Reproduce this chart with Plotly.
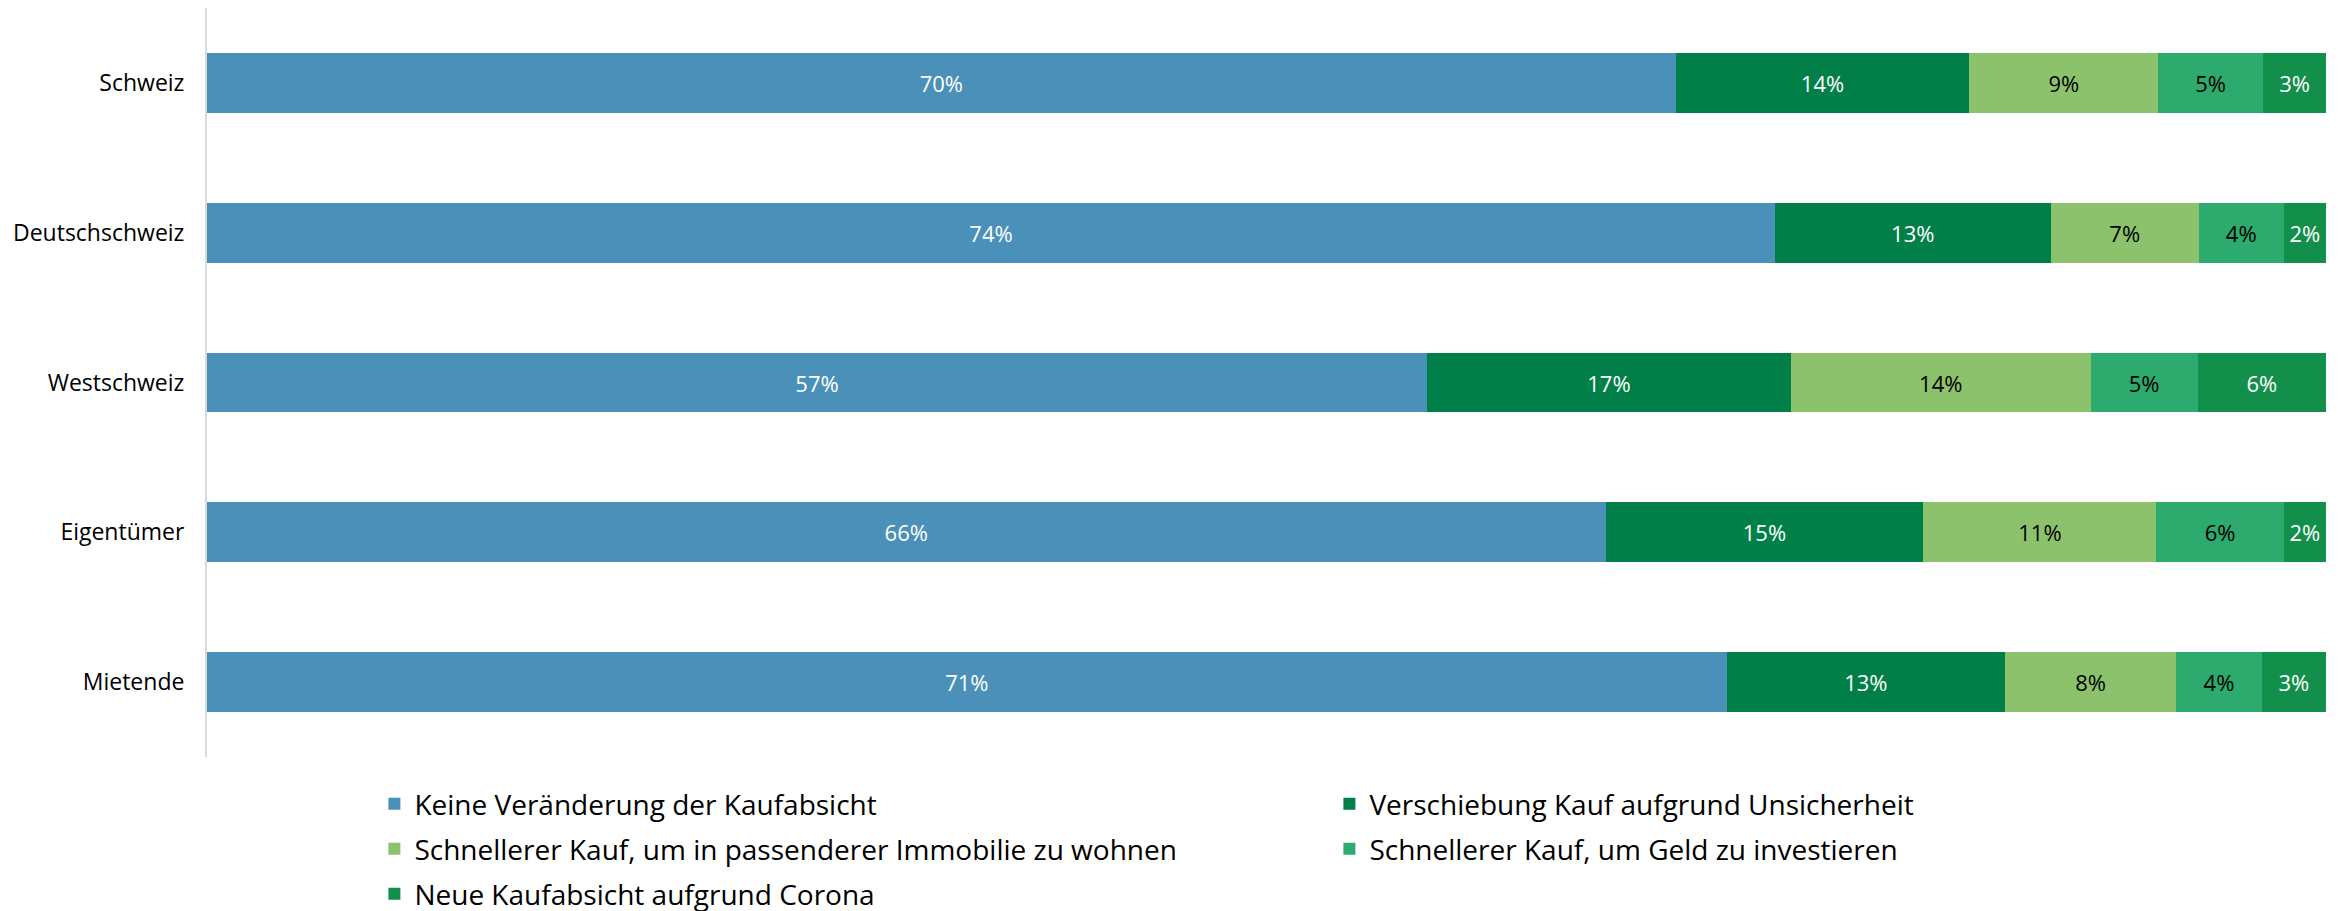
import plotly.graph_objects as go

categories = ["Schweiz", "Deutschschweiz", "Westschweiz", "Eigentümer", "Mietende"]
series_names = [
    "Keine Veränderung der Kaufabsicht",
    "Verschiebung Kauf aufgrund Unsicherheit",
    "Schnellerer Kauf, um in passenderer Immobilie zu wohnen",
    "Schnellerer Kauf, um Geld zu investieren",
    "Neue Kaufabsicht aufgrund Corona",
]
keine = [70, 74, 57, 66, 71]
verschiebung = [14, 13, 17, 15, 13]
wohnen = [9, 7, 14, 11, 8]
investieren = [5, 4, 5, 6, 4]
corona = [3, 2, 6, 2, 3]

series_values = [keine, verschiebung, wohnen, investieren, corona]
colors = ["#4A90B8", "#017F48", "#8DC26C", "#2DAA6E", "#138F4C"]
text_colors = ["white", "white", "black", "black", "white"]
legend_ids = ["legend", "legend", "legend2", "legend2", "legend3"]

fig = go.Figure()
for name, vals, col, tcol, lg in zip(series_names, series_values, colors, text_colors, legend_ids):
    fig.add_trace(go.Bar(
        y=categories, x=vals, name=name, orientation="h",
        marker=dict(color=col, line=dict(width=0)),
        text=[f"{v}%" for v in vals], textposition="inside",
        insidetextanchor="middle",
        textfont=dict(color=tcol, size=22, family="Open Sans"),
        hoverinfo="skip", legend=lg,
    ))

leg_common = dict(
    orientation="h", x=0.079, xanchor="left", yanchor="middle",
    entrywidth=910, entrywidthmode="pixels",
    font=dict(size=28, family="Open Sans"),
    traceorder="normal", bgcolor="rgba(0,0,0,0)",
)

fig.update_layout(
    barmode="stack", barnorm="percent", bargap=0.6,
    width=2351, height=911,
    margin=dict(l=199, r=33, t=0, b=162, autoexpand=False),
    plot_bgcolor="white", paper_bgcolor="white",
    font=dict(family="Open Sans", size=23, color="black"),
    showlegend=True,
    legend=dict(leg_common, y=-0.0628),
    legend2=dict(leg_common, y=-0.1228),
    legend3=dict(leg_common, y=-0.1829),
    uniformtext=dict(minsize=10, mode="show"),
)
fig.update_xaxes(visible=False, range=[0, 100], fixedrange=True)
fig.update_yaxes(
    autorange="reversed", showline=True, linecolor="#D9D9D9", linewidth=2,
    ticks="", ticklabelstandoff=16, showgrid=False, automargin=False,
    tickfont=dict(size=23, family="Open Sans"),
)
fig.write_html("out.html")
